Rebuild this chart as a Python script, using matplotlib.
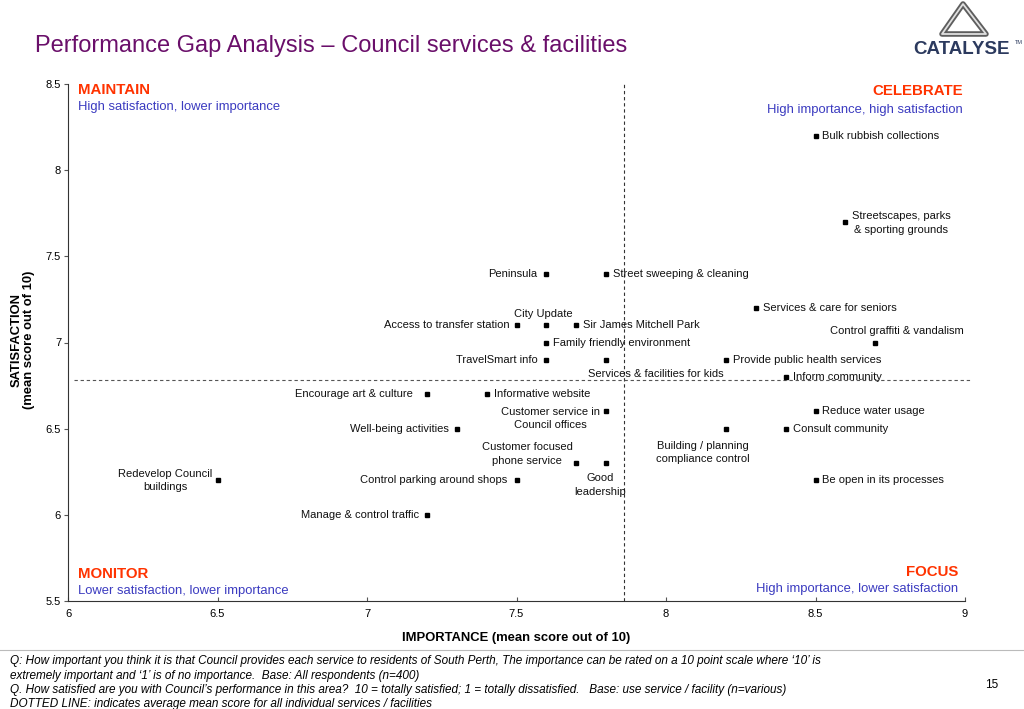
import matplotlib
matplotlib.use("Agg")
import matplotlib.pyplot as plt
from matplotlib.lines import Line2D
from matplotlib.patches import Polygon

plt.rcParams['font.family'] = ['Liberation Sans', 'DejaVu Sans']

# ---------------- data ----------------
services = [
    "Bulk rubbish collections", "Streetscapes, parks\n& sporting grounds", "Peninsula",
    "Street sweeping & cleaning", "Services & care for seniors", "Control graffiti & vandalism",
    "Access to transfer station", "City Update", "Sir James Mitchell Park",
    "Family friendly environment", "TravelSmart info", "Services & facilities for kids",
    "Provide public health services", "Inform community", "Encourage art & culture",
    "Informative website", "Customer service in\nCouncil offices", "Reduce water usage",
    "Well-being activities", "Building / planning\ncompliance control", "Consult community",
    "Customer focused\nphone service", "Good\nleadership", "Redevelop Council\nbuildings",
    "Control parking around shops", "Be open in its processes", "Manage & control traffic",
]
importance = [8.5, 8.6, 7.6, 7.8, 8.3, 8.7, 7.5, 7.6, 7.7, 7.6, 7.6, 7.8, 8.2, 8.4, 7.2,
              7.4, 7.8, 8.5, 7.3, 8.2, 8.4, 7.7, 7.8, 6.5, 7.5, 8.5, 7.2]
satisfaction = [8.2, 7.7, 7.4, 7.4, 7.2, 7.0, 7.1, 7.1, 7.1, 7.0, 6.9, 6.9, 6.9, 6.8, 6.7,
                6.7, 6.6, 6.6, 6.5, 6.5, 6.5, 6.3, 6.3, 6.2, 6.2, 6.2, 6.0]
avg_importance = 7.86
avg_satisfaction = 6.78
x_ticks = [6, 6.5, 7, 7.5, 8, 8.5, 9]
y_ticks = [5.5, 6, 6.5, 7, 7.5, 8, 8.5]

# label placement (pixel offsets from marker, horizontal alignment)
label_pos = [
    (7, 0, 'left'), (56, -1, 'center'), (-9, 0, 'right'),
    (7, 0, 'left'), (7, 0, 'left'), (22, 12, 'center'),
    (-7, 0, 'right'), (-3, 11, 'center'), (7, 0, 'left'),
    (7, 0, 'left'), (-9, 0, 'right'), (50, -14, 'center'),
    (7, 0, 'left'), (7, 0, 'left'), (-14, 0, 'right'),
    (7, 0, 'left'), (-56, -7, 'center'), (7, 0, 'left'),
    (-8, 0, 'right'), (-23, -24, 'center'), (7, 0, 'left'),
    (-49, 9, 'center'), (-6, -22, 'center'), (-52, 0, 'center'),
    (-9, 0, 'right'), (7, 0, 'left'), (-8, 0, 'right'),
]

W, H = 1024, 709
fig = plt.figure(figsize=(W / 100, H / 100), dpi=100)
fig.patch.set_facecolor('white')


def fx(x):
    return x / W


def fy(y):
    return 1 - y / H


ax = fig.add_axes([fx(68), fy(601), fx(965) - fx(68), fy(84) - fy(601)])
ax.set_xlim(6, 9)
ax.set_ylim(5.5, 8.5)
ax.set_xticks(x_ticks)
ax.set_xticklabels([f"{v:g}" for v in x_ticks])
ax.set_yticks(y_ticks)
ax.set_yticklabels([f"{v:g}" for v in y_ticks])
for s in ['top', 'right']:
    ax.spines[s].set_visible(False)
for s in ['left', 'bottom']:
    ax.spines[s].set_color('#333333')
    ax.spines[s].set_linewidth(0.8)
ax.tick_params(axis='x', direction='in', length=3, labelsize=8, pad=6, color='#555555')
ax.tick_params(axis='y', direction='out', length=3, labelsize=8, pad=2, color='#555555')

# average lines
ax.vlines(avg_importance, 5.5, 8.5, colors='#333333', linestyles=(0, (3, 2.5)), linewidth=0.8)
ax.hlines(avg_satisfaction, 6.02, 9.02, colors='#555555', linestyles=(0, (3, 2.5)),
          linewidth=0.8, clip_on=False)

ax.plot(importance, satisfaction, 's', color='black', markersize=3.3, linestyle='none', zorder=3)

for name, x, y, (dx, dy, ha) in zip(services, importance, satisfaction, label_pos):
    ax.annotate(name, (x, y), xytext=(dx * 0.72, dy * 0.72), textcoords='offset points',
                ha=ha, va='center', fontsize=8, multialignment='center', color='#111111',
                linespacing=1.45)

# quadrant labels
qc = '#FF3300'
sc = '#3B3BC0'
fig.text(fx(78), fy(90), "MAINTAIN", color=qc, fontsize=10.8, fontweight='bold', va='center')
fig.text(fx(78), fy(107), "High satisfaction, lower importance", color=sc, fontsize=9.4, va='center')
fig.text(fx(963), fy(91), "CELEBRATE", color=qc, fontsize=10.8, fontweight='bold', va='center', ha='right')
fig.text(fx(963), fy(110), "High importance, high satisfaction", color=sc, fontsize=9.4, va='center', ha='right')
fig.text(fx(78), fy(574), "MONITOR", color=qc, fontsize=10.8, fontweight='bold', va='center')
fig.text(fx(78), fy(591), "Lower satisfaction, lower importance", color=sc, fontsize=9.4, va='center')
fig.text(fx(958), fy(572), "FOCUS", color=qc, fontsize=10.8, fontweight='bold', va='center', ha='right')
fig.text(fx(958), fy(589), "High importance, lower satisfaction", color=sc, fontsize=9.4, va='center', ha='right')

# axis titles
fig.text(fx(516), fy(638), "IMPORTANCE (mean score out of 10)", fontsize=9.4, fontweight='bold',
         ha='center', va='center')
fig.text(fx(23), fy(340), "SATISFACTION\n(mean score out of 10)", fontsize=9.4, fontweight='bold',
         ha='center', va='center', rotation=90, multialignment='center', linespacing=1.1)

# title
fig.text(fx(35), fy(46), "Performance Gap Analysis \u2013 Council services & facilities",
         color='#6A0F6A', fontsize=17, va='center', ha='left')

# logo
tri_pts = [[fx(963), fy(4)], [fx(942), fy(34)], [fx(986), fy(34)]]
fig.add_artist(Polygon(tri_pts, closed=True, transform=fig.transFigure, fill=False,
                       edgecolor='#5E5E5E', linewidth=4, joinstyle='round'))
fig.add_artist(Polygon(tri_pts, closed=True, transform=fig.transFigure, fill=False,
                       edgecolor='#E0E0E0', linewidth=1.3, joinstyle='round'))
fig.text(fx(962), fy(49), "CATALYSE", color='#2C3A5E', fontsize=13.5, fontweight='bold',
         ha='center', va='center')
fig.text(fx(1015), fy(43), "TM", color='#2C3A5E', fontsize=4, ha='left', va='center')

# separator line
fig.add_artist(Line2D([0, 1], [fy(650), fy(650)], transform=fig.transFigure, color='#BBBBBB', linewidth=0.8))

# footnotes
notes = [
    "Q: How important you think it is that Council provides each service to residents of South Perth, The importance can be rated on a 10 point scale where \u201810\u2019 is",
    "extremely important and \u20181\u2019 is of no importance.  Base: All respondents (n=400)",
    "Q. How satisfied are you with Council\u2019s performance in this area?  10 = totally satisfied; 1 = totally dissatisfied.   Base: use service / facility (n=various)",
    "DOTTED LINE: indicates average mean score for all individual services / facilities",
]
for i, t in enumerate(notes):
    fig.text(fx(10), fy(661 + i * 14.5), t, fontsize=8.5, style='italic', va='center', ha='left')
fig.text(fx(992), fy(685), "15", fontsize=8.5, ha='center', va='center')

fig.savefig("out.png", dpi=100)
